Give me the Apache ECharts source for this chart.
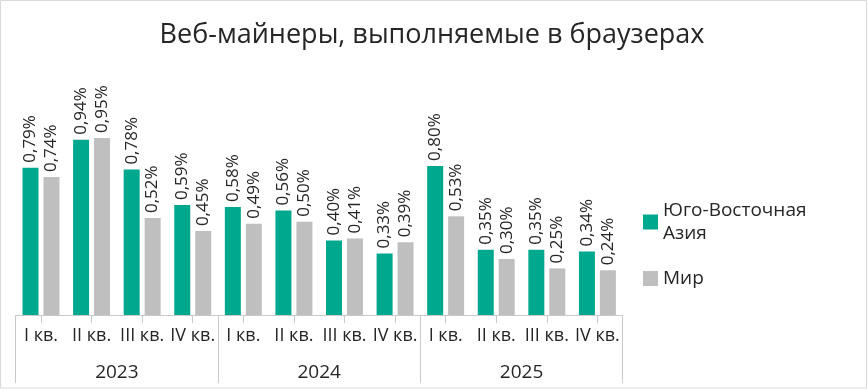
<!DOCTYPE html>
<html>
<head>
<meta charset="utf-8">
<script src="https://cdn.jsdelivr.net/npm/echarts@6/dist/echarts.min.js"></script>
<style>
html,body{margin:0;padding:0;background:#fff;}
#c{width:868px;height:390px;}
</style>
</head>
<body>
<div id="c"></div>
<script>
const quarters = ['I кв.','II кв.','III кв.','IV кв.','I кв.','II кв.','III кв.','IV кв.','I кв.','II кв.','III кв.','IV кв.'];
const years = ['2023','2024','2025'];
const seaName = 'Юго-Восточная Азия';
const worldName = 'Мир';
const seaValues = [0.79, 0.94, 0.78, 0.59, 0.58, 0.56, 0.40, 0.33, 0.80, 0.35, 0.35, 0.34];
const worldValues = [0.74, 0.95, 0.52, 0.45, 0.49, 0.50, 0.41, 0.39, 0.53, 0.30, 0.25, 0.24];

const FONT = '"Open Sans", "Noto Sans", sans-serif';
const TXT = '#262626';
const LINE = '#c9c9c9';

const chart = echarts.init(document.getElementById('c'));
const labelCfg = {
  show: true,
  position: 'top',
  rotate: 90,
  align: 'left',
  verticalAlign: 'middle',
  distance: 5,
  color: TXT,
  fontFamily: FONT,
  fontSize: 17,
  formatter: p => p.value.toFixed(2).replace('.', ',') + '%'
};
chart.setOption({
  animation: false,
  backgroundColor: '#fff',
  title: {
    text: 'Веб-майнеры, выполняемые в браузерах',
    left: 427, top: 17, textAlign: 'center',
    textStyle: {fontFamily: FONT, fontSize: 27, fontWeight: 'normal', color: TXT}
  },
  legend: {
    orient: 'vertical',
    left: 638, top: 194,
    itemWidth: 15, itemHeight: 15, itemGap: 22,
    icon: 'rect',
    formatter: n => n === seaName ? 'Юго-Восточная\nАзия' : n,
    textStyle: {fontFamily: FONT, fontSize: 19, color: TXT, lineHeight: 23},
    data: [seaName, worldName]
  },
  grid: {left: 15.7, right: 245.3, top: 128.6, bottom: 75},
  xAxis: [{
    type: 'category',
    data: quarters,
    boundaryGap: true,
    axisLine: {show: true, lineStyle: {color: LINE, width: 1}},
    axisTick: {show: true, alignWithLabel: true, length: 8, lineStyle: {color: LINE}},
    axisLabel: {interval: 0, margin: 12, color: TXT, fontFamily: FONT, fontSize: 18}
  }, {
    type: 'category',
    data: years,
    position: 'bottom',
    boundaryGap: true,
    axisLine: {show: false},
    axisTick: {show: true, length: 68, lineStyle: {color: LINE}},
    axisLabel: {interval: 0, margin: 48, color: TXT, fontFamily: FONT, fontSize: 19}
  }],
  yAxis: {type: 'value', min: 0, max: 1, show: false, splitLine: {show: false}},
  series: [{
    name: seaName, type: 'bar', data: seaValues,
    barWidth: 16, barGap: '31%',
    itemStyle: {color: '#00a88e'},
    label: labelCfg
  }, {
    name: worldName, type: 'bar', data: worldValues,
    barWidth: 16, barGap: '31%',
    itemStyle: {color: '#bfbfbf'},
    label: labelCfg
  }],
  graphic: [{
    type: 'rect', silent: true,
    shape: {x: 0.5, y: 0.5, width: 866, height: 387.5},
    style: {fill: 'none', stroke: '#d9d9d9', lineWidth: 1}
  }]
});
</script>
</body>
</html>
